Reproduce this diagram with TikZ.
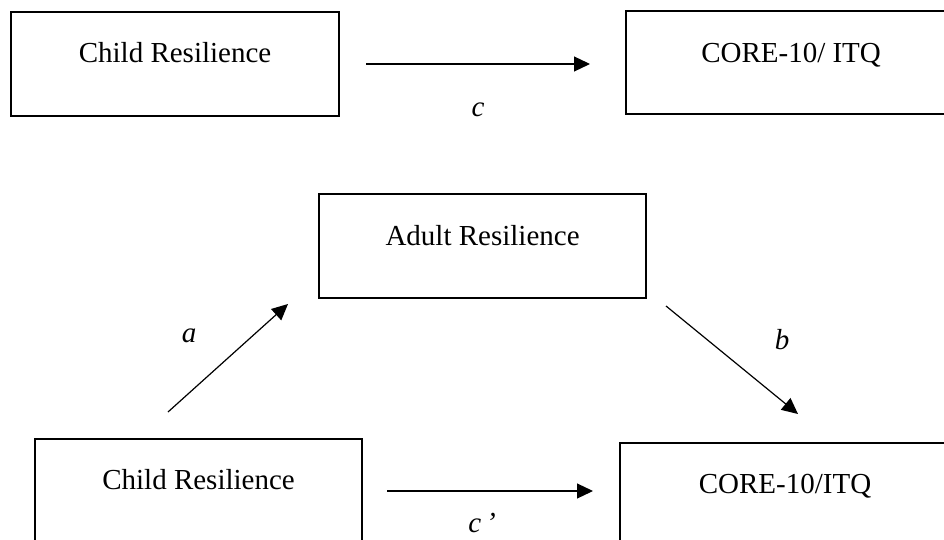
\documentclass[tikz,border=0pt]{standalone}
\usepackage{fontspec}
\setmainfont{Liberation Serif}
\usetikzlibrary{arrows.meta}
\begin{document}
\begin{tikzpicture}[x=1pt,y=-1pt,
  box/.style={draw, line width=2.1pt, inner sep=0pt, anchor=north west,
    font=\fontsize{29}{34}\selectfont},
  arr/.style={line width=1.2pt, -{Triangle[length=16pt,width=15pt]}},
  lab/.style={font=\fontsize{29}{34}\selectfont\itshape, inner sep=0pt, anchor=base}]
\useasboundingbox (0,0) rectangle (944,540);
\clip (0,0) rectangle (944,540);
% top model
\node[box, minimum width=328pt, minimum height=104pt, text height=50pt, text depth=54pt] (cr1) at (10,11) {Child Resilience};
\node[box, minimum width=330pt, minimum height=103pt, text height=51pt, text depth=52pt] (core1) at (625,10) {CORE-10/ ITQ};
\coordinate (c1s) at (366,64);
\coordinate (c1e) at (590,64);
\draw[arr] (c1s) -- (c1e);
\node[lab] (lc) at (478,117) {c};
% mediation model
\node[box, minimum width=327pt, minimum height=104pt, text height=51pt, text depth=53pt] (ar) at (318,193) {Adult Resilience};
\node[box, minimum width=327pt, minimum height=102pt, text height=50pt, text depth=52pt] (cr2) at (34,438) {Child Resilience};
\node[box, minimum width=330pt, minimum height=104pt, text height=50pt, text depth=54pt] (core2) at (619,442) {CORE-10/ITQ};
\coordinate (as) at (168,412);
\coordinate (ae) at (288,304);
\draw[arr] (as) -- (ae);
\node[lab] (la) at (189,342) {a};
\coordinate (bs) at (666,306);
\coordinate (be) at (798,414);
\draw[arr] (bs) -- (be);
\node[lab] (lb) at (782,349) {b};
\coordinate (c2s) at (387,491);
\coordinate (c2e) at (593,491);
\draw[arr] (c2s) -- (c2e);
\node[lab] (lc2) at (482,532) {c\,’};
\end{tikzpicture}
\end{document}
